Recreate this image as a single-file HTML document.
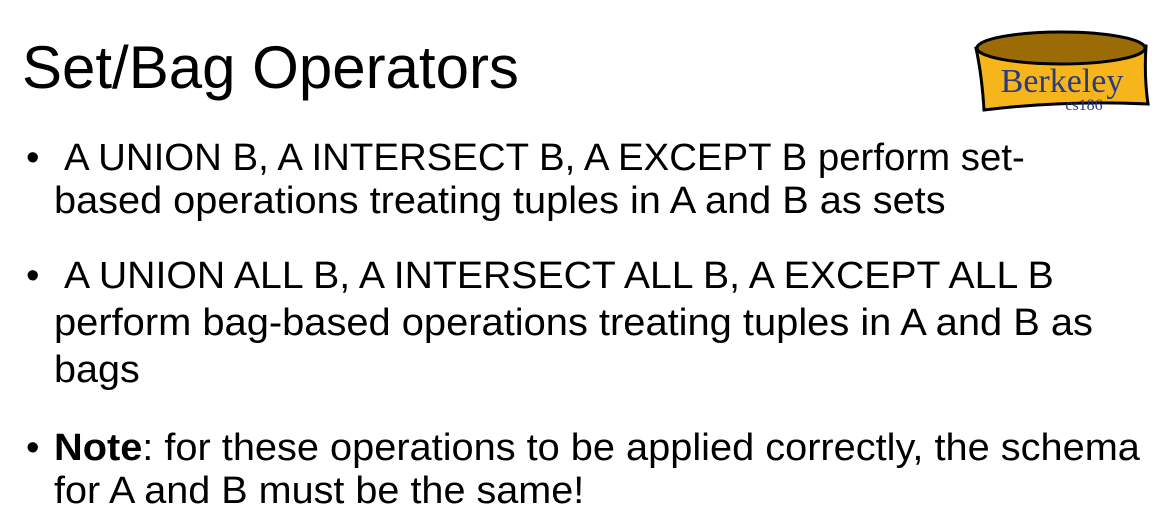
<!DOCTYPE html>
<html><head><style>
body{margin:0;width:1175px;height:529px;background:#fff;overflow:hidden;position:relative;font-family:"Liberation Sans",sans-serif;color:#000}
.t{position:absolute;white-space:nowrap;font-size:38.4px;line-height:43px;transform-origin:0 0}
</style></head><body>
<div class="t" style="left:22px;top:33px;font-size:60px;line-height:70px">Set/Bag Operators</div>
<svg style="position:absolute;left:966px;top:26px" width="190" height="92" viewBox="0 0 190 92">
<path d="M10 22 Q90 6 180 20 Q178 50 182 78 Q100 74 18 84 Q16 50 10 22 Z" fill="#f6b51a" stroke="#000" stroke-width="3"/>
<ellipse cx="95" cy="22" rx="84" ry="16" fill="#9b6c06" stroke="#000" stroke-width="3"/>
<text x="96" y="66" text-anchor="middle" font-family="Liberation Serif,serif" font-size="34" fill="#2a3b80">Berkeley</text>
<text x="118" y="84" text-anchor="middle" font-family="Liberation Serif,serif" font-size="16" fill="#2a3b80">cs186</text>
</svg>
<div class="t" style="left:26px;top:136px">•</div>
<div class="t" style="left:64px;top:136px">A UNION B, A INTERSECT B, A EXCEPT B perform set-</div>
<div class="t" style="left:54px;top:179px;transform:scaleX(1.034)">based operations treating tuples in A and B as sets</div>
<div class="t" style="left:26px;top:254px">•</div>
<div class="t" style="left:64px;top:254px;transform:scaleX(1.021)">A UNION ALL B, A INTERSECT ALL B, A EXCEPT ALL B</div>
<div class="t" style="left:54px;top:301px;transform:scaleX(1.038)">perform bag-based operations treating tuples in A and B as</div>
<div class="t" style="left:54px;top:348px;transform:scaleX(1.03)">bags</div>
<div class="t" style="left:26px;top:426px">•</div>
<div class="t" style="left:54px;top:426px;transform:scaleX(1.035)"><b>Note</b>: for these operations to be applied correctly, the schema</div>
<div class="t" style="left:54px;top:469px;transform:scaleX(1.031)">for A and B must be the same!</div>
</body></html>
